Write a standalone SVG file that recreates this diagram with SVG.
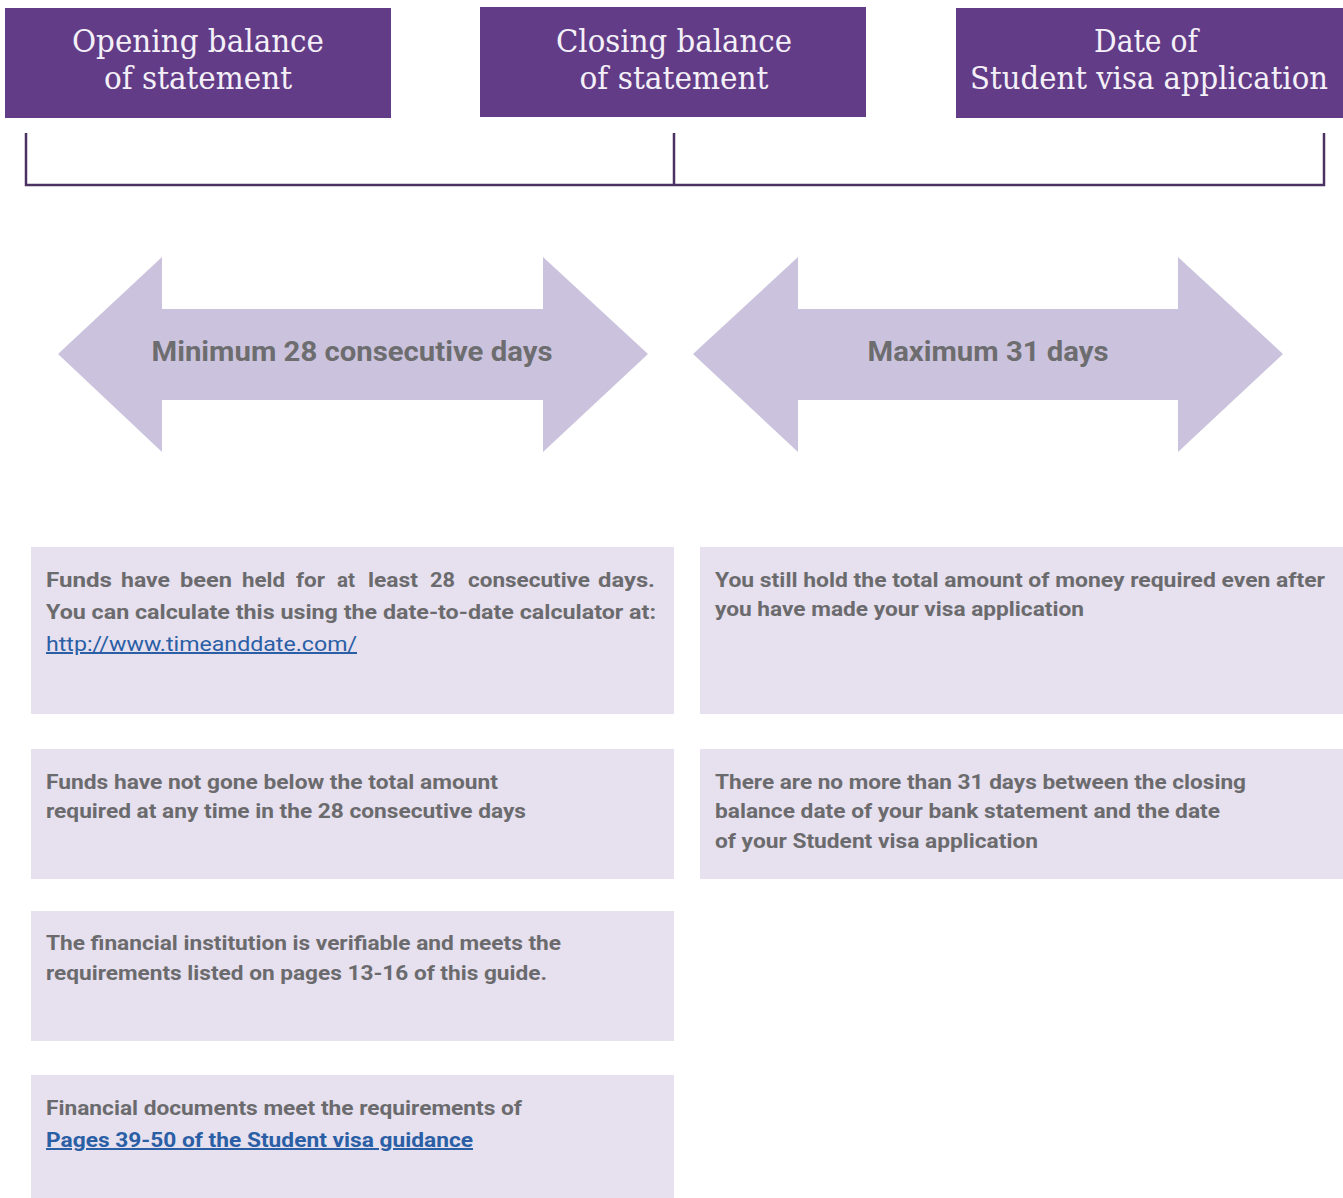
<svg xmlns="http://www.w3.org/2000/svg" width="1343" height="1198" viewBox="0 0 1343 1198">
<style>
.hdr{fill:#623c87}
.ht{font-family:"DejaVu Serif","Liberation Serif",serif;font-size:32px;font-weight:300;fill:#f4f0f8;text-anchor:middle}
.arr{fill:#cbc3dd}
.at{font-family:Roboto,"Liberation Sans",sans-serif;font-size:28px;font-weight:700;fill:#6d6d6f;text-anchor:middle}
.box{fill:#e6e0ef}
.bt{font-family:Roboto,"Liberation Sans",sans-serif;font-size:20px;font-weight:700;fill:#6b6b6d}
.lk{font-family:Roboto,"Liberation Sans",sans-serif;font-size:20px;fill:#2a5ea5;text-decoration:underline}
.ln{fill:none;stroke:#4b3263;stroke-width:2.5}
</style>
<rect width="1343" height="1198" fill="#fff"/>
<g id="opening">
<rect class="hdr" x="5" y="8" width="386" height="110"/>
<text class="ht" x="198" y="52" textLength="252" lengthAdjust="spacingAndGlyphs">Opening balance</text>
<text class="ht" x="198" y="89" textLength="188" lengthAdjust="spacingAndGlyphs">of statement</text>
</g>
<g id="closing">
<rect class="hdr" x="480" y="7" width="386" height="110"/>
<text class="ht" x="674" y="52" textLength="236" lengthAdjust="spacingAndGlyphs">Closing balance</text>
<text class="ht" x="674" y="89" textLength="189" lengthAdjust="spacingAndGlyphs">of statement</text>
</g>
<g id="visadate">
<rect class="hdr" x="956" y="8" width="387" height="110"/>
<text class="ht" x="1146" y="52" textLength="104" lengthAdjust="spacingAndGlyphs">Date of</text>
<text class="ht" x="1149" y="89" textLength="358" lengthAdjust="spacingAndGlyphs">Student visa application</text>
</g>
<g id="connectors">
<path class="ln" d="M26 133 V185 H1324 V133 M674 133 V185"/>
</g>
<g id="arrow-min">
<polygon class="arr" points="58,354 162,257 162,309 543,309 543,257 648,354 543,452 543,400 162,400 162,452"/>
<text class="at" x="352" y="361" textLength="401" lengthAdjust="spacingAndGlyphs">Minimum 28 consecutive days</text>
</g>
<g id="arrow-max">
<polygon class="arr" points="693,354 798,257 798,309 1178,309 1178,257 1283,354 1178,452 1178,400 798,400 798,452"/>
<text class="at" x="988" y="361" textLength="241" lengthAdjust="spacingAndGlyphs">Maximum 31 days</text>
</g>
<g id="box-held">
<rect class="box" x="31" y="547" width="643" height="167"/>
<text class="bt" y="587"><tspan x="46" textLength="66" lengthAdjust="spacingAndGlyphs">Funds</tspan><tspan x="121" textLength="49" lengthAdjust="spacingAndGlyphs">have</tspan><tspan x="180" textLength="52" lengthAdjust="spacingAndGlyphs">been</tspan><tspan x="242" textLength="43" lengthAdjust="spacingAndGlyphs">held</tspan><tspan x="296" textLength="29" lengthAdjust="spacingAndGlyphs">for</tspan><tspan x="337" textLength="18" lengthAdjust="spacingAndGlyphs">at</tspan><tspan x="368" textLength="50" lengthAdjust="spacingAndGlyphs">least</tspan><tspan x="430" textLength="25" lengthAdjust="spacingAndGlyphs">28</tspan><tspan x="468" textLength="122" lengthAdjust="spacingAndGlyphs">consecutive</tspan><tspan x="598" textLength="57" lengthAdjust="spacingAndGlyphs">days.</tspan></text>
<text class="bt" x="46" y="619" textLength="610" lengthAdjust="spacingAndGlyphs">You can calculate this using the date-to-date calculator at:</text>
<text class="lk" x="46" y="651" textLength="311" lengthAdjust="spacingAndGlyphs">http://www.timeanddate.com/</text>
</g>
<g id="box-still">
<rect class="box" x="700" y="547" width="643" height="167"/>
<text class="bt" x="715" y="587" textLength="610" lengthAdjust="spacingAndGlyphs">You still hold the total amount of money required even after</text>
<text class="bt" x="715" y="616" textLength="369" lengthAdjust="spacingAndGlyphs">you have made your visa application</text>
</g>
<g id="box-below">
<rect class="box" x="31" y="749" width="643" height="130"/>
<text class="bt" x="46" y="789" textLength="452" lengthAdjust="spacingAndGlyphs">Funds have not gone below the total amount</text>
<text class="bt" x="46" y="818" textLength="480" lengthAdjust="spacingAndGlyphs">required at any time in the 28 consecutive days</text>
</g>
<g id="box-31days">
<rect class="box" x="700" y="749" width="643" height="130"/>
<text class="bt" x="715" y="789" textLength="531" lengthAdjust="spacingAndGlyphs">There are no more than 31 days between the closing</text>
<text class="bt" x="715" y="818" textLength="505" lengthAdjust="spacingAndGlyphs">balance date of your bank statement and the date</text>
<text class="bt" x="715" y="848" textLength="323" lengthAdjust="spacingAndGlyphs">of your Student visa application</text>
</g>
<g id="box-institution">
<rect class="box" x="31" y="911" width="643" height="130"/>
<text class="bt" x="46" y="950" textLength="515" lengthAdjust="spacingAndGlyphs">The financial institution is verifiable and meets the</text>
<text class="bt" x="46" y="980" textLength="501" lengthAdjust="spacingAndGlyphs">requirements listed on pages 13-16 of this guide.</text>
</g>
<g id="box-documents">
<rect class="box" x="31" y="1075" width="643" height="123"/>
<text class="bt" x="46" y="1115" textLength="476" lengthAdjust="spacingAndGlyphs">Financial documents meet the requirements of</text>
<text class="lk" x="46" y="1147" font-weight="700" textLength="427" lengthAdjust="spacingAndGlyphs">Pages 39-50 of the Student visa guidance</text>
</g>
</svg>
